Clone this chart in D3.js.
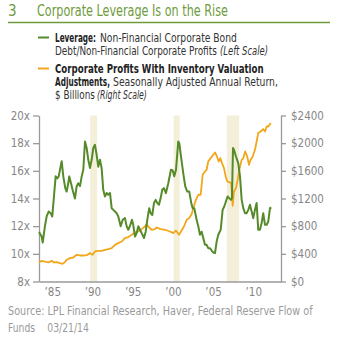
<!DOCTYPE html>
<html><head><meta charset="utf-8">
<script src="https://cdn.jsdelivr.net/npm/d3@7"></script>
<style>
html,body{margin:0;padding:0;background:#fff;}
svg{display:block;font-family:"Liberation Sans Narrow","DejaVu Sans Condensed","Roboto Condensed",sans-serif;}
</style></head>
<body>
<script>
// ---- data ----
const leverageYears = [1983.35,1983.68,1983.81,1984.09,1984.30,1984.55,1984.80,1985.00,1985.21,1985.42,1985.62,1985.80,1986.00,1986.17,1986.37,1986.62,1986.79,1986.99,1987.11,1987.33,1987.54,1987.82,1988.03,1988.23,1988.45,1988.66,1988.86,1989.07,1989.28,1989.48,1989.69,1989.90,1990.10,1990.31,1990.52,1990.72,1990.93,1991.14,1991.34,1991.55,1991.77,1991.97,1992.18,1992.39,1992.59,1992.80,1993.01,1993.21,1993.51,1993.76,1994.04,1994.25,1994.45,1994.66,1994.91,1995.07,1995.29,1995.50,1995.70,1995.91,1996.12,1996.41,1996.62,1996.82,1997.06,1997.24,1997.44,1997.65,1997.86,1998.06,1998.27,1998.48,1998.68,1998.89,1999.14,1999.43,1999.76,1999.98,2000.17,2000.39,2000.67,2000.80,2001.01,2001.29,2001.54,2001.79,2002.04,2002.29,2002.46,2002.66,2002.96,2003.21,2003.37,2003.58,2003.78,2003.99,2004.20,2004.40,2004.61,2004.83,2005.02,2005.24,2005.45,2005.65,2005.95,2006.19,2006.39,2006.60,2006.82,2007.01,2007.23,2007.35,2007.48,2007.60,2007.85,2008.13,2008.35,2008.56,2008.76,2008.97,2009.18,2009.38,2009.59,2009.80,2010.00,2010.21,2010.42,2010.62,2010.83,2011.04,2011.24,2011.46,2011.67,2011.87,2012.08,2012.25];
const leverageValues = [11.57,11.25,10.82,12.0,12.7,13.06,12.94,12.7,14.15,15.6,15.45,15.6,16.2,16.7,15.6,14.75,14.5,15.1,15.6,15.1,14.6,14.0,14.87,15.1,14.9,15.6,16.08,18.12,17.65,16.8,16.2,16.8,17.65,17.88,17.16,16.3,16.8,16.2,14.63,14.15,14.4,14.27,14.4,13.3,13.18,13.06,12.94,12.7,12.0,12.46,12.58,12.0,11.74,12.0,12.46,12.1,11.25,11.5,12.0,11.74,11.5,11.14,11.6,12.46,13.3,12.94,12.8,13.67,13.9,13.67,13.55,14.03,14.63,14.75,14.39,15.1,16.08,16.03,15.6,16.08,18.12,18.0,17.04,15.84,14.87,14.5,14.5,13.67,13.3,13.3,12.46,11.86,11.38,11.6,11.14,10.65,10.65,10.41,10.41,10.24,10.1,10.05,10.9,11.38,11.74,13.18,13.42,13.78,14.15,14.03,13.9,14.03,17.65,17.52,17.04,16.56,15.6,13.9,13.3,12.94,12.94,13.18,13.55,13.06,12.58,13.18,13.67,11.74,11.74,12.22,12.94,12.1,12.1,12.34,13.3,13.35];

const profitYears = [1983.35,1983.68,1984.09,1984.50,1984.93,1985.21,1985.55,1985.96,1986.29,1986.58,1986.79,1987.20,1987.61,1988.03,1988.45,1988.86,1989.28,1989.69,1990.02,1990.31,1990.72,1991.14,1991.55,1991.97,1992.39,1992.80,1993.21,1993.63,1994.04,1994.45,1994.88,1995.29,1995.70,1996.12,1996.53,1996.74,1996.94,1997.36,1997.77,1997.99,1998.40,1999.02,1999.64,2000.05,2000.39,2000.76,2001.09,2001.38,2001.72,2002.04,2002.34,2002.54,2002.87,2003.16,2003.46,2003.71,2003.99,2004.20,2004.40,2004.70,2005.02,2005.24,2005.45,2005.70,2005.90,2006.11,2006.36,2006.57,2006.77,2007.10,2007.26,2007.44,2007.60,2007.85,2008.06,2008.26,2008.56,2008.76,2009.00,2009.25,2009.47,2009.68,2009.93,2010.21,2010.42,2010.62,2010.92,2011.24,2011.46,2011.67,2011.87,2012.17];
const profitValues = [275,299,289,275,299,275,280,266,256,280,314,338,347,386,376,376,381,410,386,434,444,444,458,468,482,530,555,578,627,642,675,709,723,757,795,830,795,748,757,781,762,748,723,700,737,675,737,795,892,917,975,1061,1181,1254,1254,1543,1591,1615,1735,1784,1832,1865,1818,1735,1784,1712,1640,1518,1446,1432,1423,1095,1301,1351,1471,1615,1760,1784,1880,1808,1688,1760,1808,1904,2024,2146,2169,2204,2169,2241,2241,2290];

const recessionStart = [1989.72, 2000.10, 2006.70];
const recessionEnd   = [1990.58, 2000.85, 2008.25];

const leftTicks = [8,10,12,14,16,18,20];
const rightTicks = [0,400,800,1200,1600,2000,2400];
const yearTicks = [1985,1990,1995,2000,2005,2010];
const yearTickLabels = ["’85","’90","’95","’00","’05","’10"];

const titleNumber = "3";
const titleText = "Corporate Leverage Is on the Rise";
// legend pieces: [text, style, x, y, target width]
const legendPieces = [
  ["Leverage:", "bold", 55, 41.5, 41],
  ["Non-Financial Corporate Bond", "normal", 100, 41.5, 137],
  ["Debt/Non-Financial Corporate Profits", "normal", 55, 54.5, 162],
  ["(Left Scale)", "italic", 220, 54.5, 48],
  ["Corporate Profits With Inventory Valuation", "bold", 55, 73, 209],
  ["Adjustments,", "bold", 55, 86, 55],
  ["Seasonally Adjusted Annual Return,", "normal", 113, 86, 165],
  ["$ Billions", "normal", 55, 99, 40],
  ["(Right Scale)", "italic", 97, 99, 50]
];
const sourceLines = ["Source: LPL Financial Research, Haver, Federal Reserve Flow of", "Funds\u2003 03/21/14"];
const sourceWidths = [305, 81];

// ---- styling ----
const GREEN = "#558b2a", ORANGE = "#f2a71b", TITLE_GREEN = "#6e9b3c", BAND = "#f3efd9", AXIS = "#9a9a9a", LABEL = "#878787";
const FONT = "'Liberation Sans Narrow','DejaVu Sans Condensed',sans-serif";

const W = 338, H = 340;
const svg = d3.select("body").append("svg").attr("width", W).attr("height", H);

// fit a text element horizontally to a target width via a scale transform
function fitText(t, x, y, width) {
  const natural = t.node().getComputedTextLength();
  const sx = natural > 0 ? width / natural : 1;
  t.attr("x", 0).attr("y", 0).attr("transform", `translate(${x},${y}) scale(${sx},1)`);
  return t;
}

// title
svg.append("text").attr("x", 8).attr("y", 16).attr("fill", TITLE_GREEN)
  .attr("font-size", 15).text(titleNumber);
fitText(svg.append("text").attr("fill", TITLE_GREEN).attr("font-size", 15).text(titleText), 37, 16, 191);
svg.append("line").attr("x1", 8).attr("x2", 330).attr("y1", 22.5).attr("y2", 22.5)
  .attr("stroke", TITLE_GREEN).attr("stroke-width", 1.5);

// legend
svg.append("line").attr("x1", 38).attr("x2", 49).attr("y1", 37.5).attr("y2", 37.5).attr("stroke", GREEN).attr("stroke-width", 2);
svg.append("line").attr("x1", 38).attr("x2", 49).attr("y1", 68.5).attr("y2", 68.5).attr("stroke", ORANGE).attr("stroke-width", 2);
svg.append("g").selectAll("text").data(legendPieces).join("text")
  .attr("font-size", 11.5)
  .attr("fill", d => d[1] === "bold" ? "#222" : "#333")
  .attr("font-weight", d => d[1] === "bold" ? "bold" : "normal")
  .attr("font-style", d => d[1] === "italic" ? "italic" : "normal")
  .text(d => d[0])
  .each(function(d) { fitText(d3.select(this), d[2], d[3], d[4]); });

// scales
const x = d3.scaleLinear().domain([1983.35, 2013.45]).range([39, 281]);
const yL = d3.scaleLinear().domain([8, 20]).range([281.5, 115.5]);
const yR = d3.scaleLinear().domain([0, 2400]).range([281.5, 115.5]);

// recession bands
svg.append("g").selectAll("rect").data(recessionStart).join("rect")
  .attr("x", (d) => x(d)).attr("width", (d, i) => x(recessionEnd[i]) - x(d))
  .attr("y", yL(20)).attr("height", yL(8) - yL(20)).attr("fill", BAND);

// axes
function styleAxis(g) {
  g.selectAll(".domain").attr("stroke", AXIS).attr("stroke-width", 1.3);
  g.selectAll(".tick line").attr("stroke", AXIS).attr("stroke-width", 1.3);
  g.selectAll(".tick text").attr("fill", LABEL).attr("font-size", 11.5).attr("font-family", FONT);
}
svg.append("g").attr("transform", "translate(39,0)")
  .call(d3.axisLeft(yL).tickValues(leftTicks).tickSize(6).tickSizeOuter(0).tickPadding(3).tickFormat(d => d + "x"))
  .call(styleAxis);
svg.append("g").attr("transform", "translate(281,0)")
  .call(d3.axisRight(yR).tickValues(rightTicks).tickSize(5).tickSizeOuter(0).tickPadding(5).tickFormat(d => "$" + d))
  .call(styleAxis);
svg.append("g").attr("transform", "translate(0,281.5)")
  .call(d3.axisBottom(x).tickValues(yearTicks).tickSize(0).tickSizeOuter(0).tickPadding(6).tickFormat((d, i) => yearTickLabels[i]))
  .call(styleAxis);

// lines
const lineL = d3.line().x((d, i) => x(leverageYears[i])).y(d => yL(d));
const lineR = d3.line().x((d, i) => x(profitYears[i])).y(d => yR(d));
svg.append("path").datum(profitValues).attr("d", lineR).attr("fill", "none")
  .attr("stroke", ORANGE).attr("stroke-width", 1.8).attr("stroke-linejoin", "round");
svg.append("path").datum(leverageValues).attr("d", lineL).attr("fill", "none")
  .attr("stroke", GREEN).attr("stroke-width", 2).attr("stroke-linejoin", "round");

// source
sourceLines.forEach((s, i) => {
  const t = svg.append("text").attr("font-size", 12).attr("fill", "#9a9a9a").text(s);
  fitText(t, 8, 315 + i * 16.5, sourceWidths[i]);
});
</script>
</body></html>
